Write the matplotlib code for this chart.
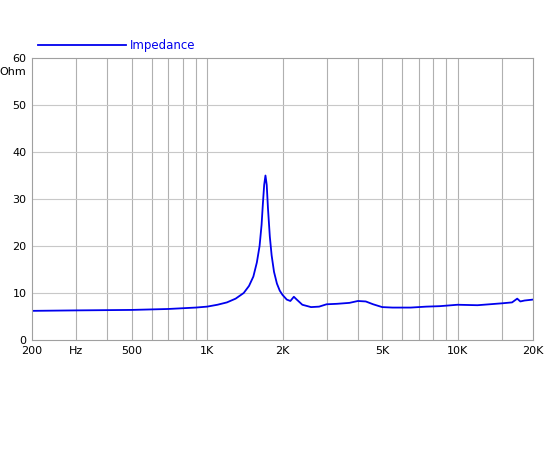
import matplotlib
matplotlib.use("Agg")
import matplotlib.pyplot as plt

freq = [200, 300, 500, 700, 900, 1000, 1100, 1200, 1300, 1400, 1470, 1530, 1580, 1620, 1650, 1670, 1690, 1710, 1730, 1750, 1780, 1810, 1850, 1900, 1950, 2000, 2080, 2150, 2220, 2280, 2400, 2600, 2800, 3000, 3300, 3700, 4000, 4300, 4600, 5000, 5500, 6500, 7500, 8500, 10000, 12000, 15000, 16500, 17300, 17800, 18500, 20000]
imp  = [6.2, 6.3, 6.4, 6.6, 6.9, 7.1, 7.5, 8.0, 8.8, 10.0, 11.5, 13.5, 16.5, 20.0, 24.5, 29.0, 33.0, 35.0, 33.0, 28.0, 22.0, 18.0, 14.5, 12.0, 10.5, 9.6, 8.6, 8.3, 9.2, 8.6, 7.5, 7.0, 7.1, 7.6, 7.7, 7.9, 8.3, 8.2, 7.6, 7.0, 6.9, 6.9, 7.1, 7.2, 7.5, 7.4, 7.8, 8.0, 8.8, 8.2, 8.4, 8.6]

xticks = [200, 300, 500, 1000, 2000, 5000, 10000, 20000]
xlabels = ["200", "Hz", "500", "1K", "2K", "5K", "10K", "20K"]
yticks = [0, 10, 20, 30, 40, 50, 60]

fig = plt.figure(figsize=(5.5, 4.5), dpi=100)
ax = fig.add_axes([32/550, 110/450, 501/550, 282/450])
ax.set_xscale("log")
ax.set_xlim(200, 20000)
ax.set_ylim(0, 60)
grid = [300,400,500,600,700,800,900,1000,2000,3000,4000,5000,6000,7000,8000,9000,10000,15000]
for g in grid:
    ax.axvline(g, color="#b0b0b0", lw=0.8, zorder=0)
for y in yticks[1:-1]:
    ax.axhline(y, color="#c8c8c8", lw=0.8, zorder=0)
ax.plot(freq, imp, color="#0000ee", lw=1.3, label="Impedance")
ax.set_xticks(xticks)
ax.set_xticklabels(xlabels, fontsize=8)
ax.minorticks_off()
ax.set_yticks(yticks)
ax.set_yticklabels([str(v) for v in yticks], fontsize=8)
ax.tick_params(length=0, pad=4)
ax.text(-0.012, 0.95, "Ohm", transform=ax.transAxes, ha="right", va="center", fontsize=8)
for s in ax.spines.values():
    s.set_color("#a0a0a0")
ax.legend(loc="lower left", bbox_to_anchor=(0.0, 1.0), frameon=False, fontsize=8.5,
          handlelength=7.5, handletextpad=0.3, labelcolor="#0000ee", borderaxespad=0.1)
fig.savefig("out.png")
